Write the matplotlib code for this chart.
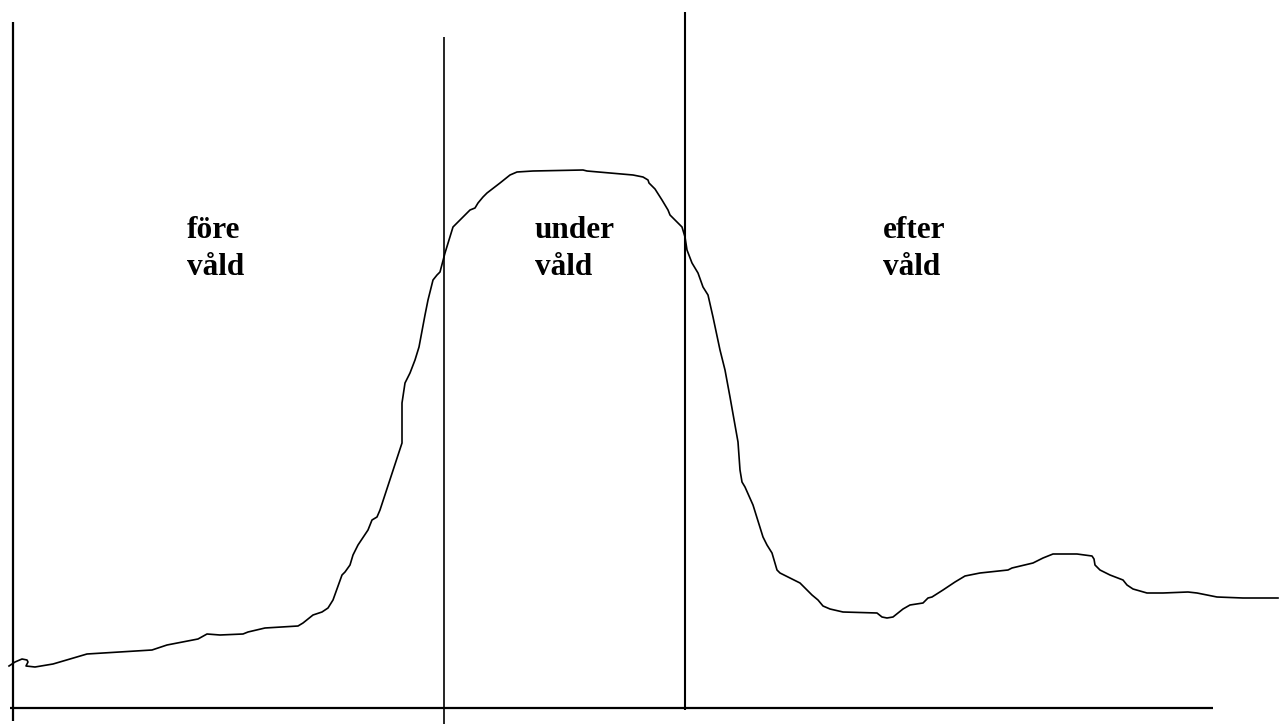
import matplotlib
matplotlib.use("Agg")
import matplotlib.pyplot as plt

# Hand-drawn curve: x position and level above the baseline (pixel units of the original)
curve_x = [9, 15, 22, 27, 28, 26, 35, 53, 70, 87, 120, 152, 167, 198, 207, 220, 243, 248, 265,
           298, 303, 313, 322, 328, 333, 342, 345, 350, 353, 358, 368, 372, 377, 380, 402, 402,
           405, 410, 415, 419, 425, 428, 433, 437, 440, 445, 453, 458, 465, 470, 475, 478, 483,
           487, 500, 510, 517, 533, 583, 587, 633, 643, 648, 649, 655, 662, 668, 670, 675, 682,
           685, 687, 692, 698, 703, 708, 713, 720, 725, 730, 738, 740, 742, 745, 753, 763, 767,
           772, 777, 780, 800, 805, 812, 818, 823, 830, 843, 877, 882, 887, 893, 903, 910, 923,
           928, 932, 940, 943, 955, 965, 980, 1008, 1012, 1033, 1043, 1053, 1077, 1092, 1094,
           1095, 1100, 1110, 1123, 1127, 1133, 1147, 1163, 1188, 1197, 1217, 1243, 1278]
curve_y = [42, 46, 49, 48, 46, 42, 41, 44, 49, 54, 56, 58, 63, 69, 74, 73, 74, 76, 80,
           82, 85, 93, 96, 100, 108, 133, 136, 143, 153, 163, 178, 188, 191, 198, 265, 305,
           325, 335, 348, 361, 393, 408, 428, 433, 436, 455, 481, 486, 493, 498, 500, 505, 511,
           515, 525, 533, 536, 537, 538, 537, 533, 531, 528, 525, 519, 508, 498, 493, 488, 481,
           471, 458, 445, 435, 421, 413, 391, 358, 338, 311, 266, 238, 226, 221, 203, 171, 163,
           155, 138, 135, 125, 120, 113, 108, 102, 99, 96, 95, 91, 90, 91, 99, 103, 105,
           110, 111, 116, 118, 126, 132, 135, 138, 140, 145, 150, 154, 154, 152, 149,
           143, 138, 133, 128, 123, 119, 115, 115, 116, 115, 111, 110, 110]

# Phase boundaries and labels
divider_x = [444, 685]
labels = [("före", "våld"), ("under", "våld"), ("efter", "våld")]
label_x = [187, 535, 883]

fig = plt.figure(figsize=(12.84, 7.26), dpi=100)
ax = fig.add_axes([0, 0, 1, 1])
ax.set_xlim(0, 1284)
ax.set_ylim(-18, 708)
ax.axis("off")

# axes drawn by hand
ax.plot([12.5, 12.5], [-13, 686], color="black", lw=1.6, solid_capstyle="butt")
ax.plot([10, 1213], [0, 0], color="black", lw=1.6, solid_capstyle="butt")
ax.plot([divider_x[0]] * 2, [-16, 671], color="black", lw=1.2, solid_capstyle="butt")
ax.plot([divider_x[1]] * 2, [-2, 696], color="black", lw=1.5, solid_capstyle="butt")

ax.plot(curve_x, curve_y, color="black", lw=1.2, solid_joinstyle="round")

font = dict(family="Liberation Serif", weight="bold", size=22.5, color="black")
for x, (top, bottom) in zip(label_x, labels):
    ax.text(x, 470, top, ha="left", va="baseline", **font)
    ax.text(x, 433, bottom, ha="left", va="baseline", **font)

fig.savefig("out.png", dpi=100)
